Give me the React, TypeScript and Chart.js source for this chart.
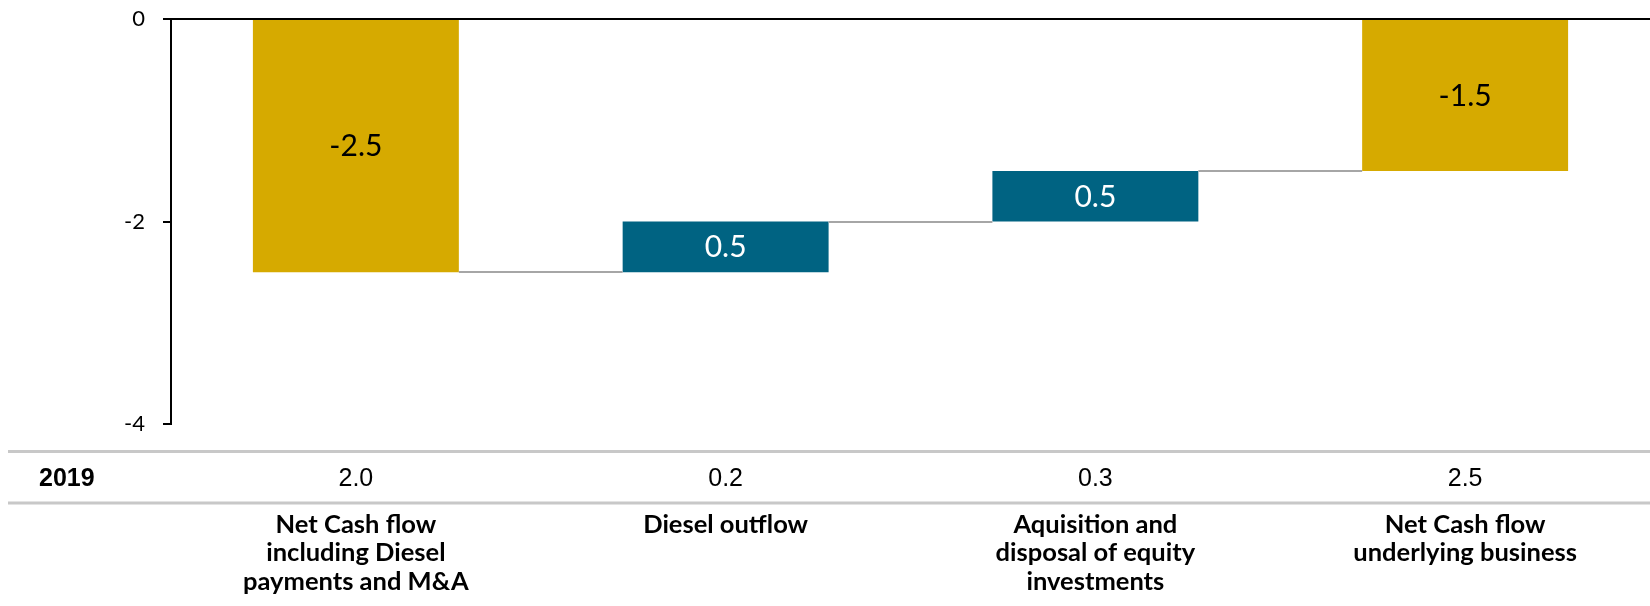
import React, { useEffect, useRef } from "react";
import { Chart, registerables } from "chart.js";

Chart.register(...registerables);

const categories: string[][] = [
  ["Net Cash flow", "including Diesel", "payments and M&A"],
  ["Diesel outflow"],
  ["Aquisition and", "disposal of equity", "investments"],
  ["Net Cash flow", "underlying business"],
];
const barStart = [0, -2.5, -2.0, -1.5];
const barEnd = [-2.5, -2.0, -1.5, 0];
const barLabels = ["-2.5", "0.5", "0.5", "-1.5"];
const values2019 = ["2.0", "0.2", "0.3", "2.5"];
const tableRowLabel = "2019";
const yTicks = [0, -2, -4];

const GOLD = "#D6AA00";
const BLUE = "#006382";
const barColors = [GOLD, BLUE, BLUE, GOLD];
const labelColors = ["#000000", "#ffffff", "#ffffff", "#000000"];

export default function App() {
  const ref = useRef<HTMLCanvasElement | null>(null);

  useEffect(() => {
    document.body.style.margin = "0";
    const canvas = ref.current;
    if (!canvas) return;

    const overlay = {
      id: "overlay",
      afterDatasetsDraw(chart: any) {
        const ctx = chart.ctx;
        const meta = chart.getDatasetMeta(0);
        const y = chart.scales.y;
        ctx.save();
        ctx.strokeStyle = "#a6a6a6";
        ctx.lineWidth = 2;
        for (let i = 0; i < meta.data.length - 1; i++) {
          const a = meta.data[i];
          const b = meta.data[i + 1];
          const py = Math.round(y.getPixelForValue(barEnd[i]));
          ctx.beginPath();
          ctx.moveTo(a.x + a.width / 2, py);
          ctx.lineTo(b.x - b.width / 2, py);
          ctx.stroke();
        }
        ctx.font = "30px Lato";
        ctx.textAlign = "center";
        ctx.textBaseline = "middle";
        meta.data.forEach((bar: any, i: number) => {
          const cy = (y.getPixelForValue(barStart[i]) + y.getPixelForValue(barEnd[i])) / 2;
          ctx.fillStyle = labelColors[i];
          ctx.fillText(barLabels[i], bar.x, cy + 1);
        });
        ctx.restore();
      },
      afterDraw(chart: any) {
        const ctx = chart.ctx;
        const x = chart.scales.x;
        ctx.save();
        ctx.strokeStyle = "#c8c8c8";
        ctx.lineWidth = 3;
        [451.5, 503].forEach((ly) => {
          ctx.beginPath();
          ctx.moveTo(8, ly);
          ctx.lineTo(chart.width, ly);
          ctx.stroke();
        });
        ctx.fillStyle = "#000";
        ctx.textBaseline = "middle";
        ctx.textAlign = "left";
        ctx.font = "bold 25px 'Liberation Sans', Arial";
        ctx.fillText(tableRowLabel, 39, 479);
        ctx.textAlign = "center";
        ctx.font = "25px 'Liberation Sans', Arial";
        values2019.forEach((v, i) => {
          ctx.fillText(v, x.getPixelForValue(i), 479);
        });
        ctx.restore();
      },
    };

    const chart = new Chart(canvas, {
      type: "bar",
      data: {
        labels: categories,
        datasets: [
          {
            data: barStart.map((s, i) => [s, barEnd[i]]) as any,
            backgroundColor: barColors,
            borderWidth: 0,
            categoryPercentage: 1,
            barPercentage: 0.557,
          },
        ],
      },
      options: {
        responsive: false,
        animation: false,
        layout: { padding: { top: 19, right: 0, left: 0, bottom: 0 } },
        plugins: {
          legend: { display: false },
          tooltip: { enabled: false },
          title: { display: false },
        },
        scales: {
          x: {
            grid: { display: false, drawTicks: false },
            border: { display: false },
            ticks: {
              color: "#000",
              font: { family: "Lato", weight: "bold", size: 25.5, lineHeight: 1.125 },
              padding: 86,
              maxRotation: 0,
              autoSkip: false,
            },
            afterFit(scale: any) {
              scale.height = 182;
              scale.paddingLeft = 0;
              scale.paddingRight = 0;
              scale.paddingTop = 0;
              scale.paddingBottom = 0;
            },
          },
          y: {
            min: -4,
            max: 0,
            afterBuildTicks(scale: any) {
              scale.ticks = yTicks.map((v) => ({ value: v }));
            },
            grid: {
              color: (c: any) => (c.tick && c.tick.value === 0 ? "#000" : "rgba(0,0,0,0)"),
              tickColor: "#000",
              lineWidth: 2,
              tickLength: 8,
              drawTicks: true,
            },
            border: { display: true, color: "#000", width: 2 },
            ticks: {
              color: "#000",
              font: { family: "Lato", size: 22 },
              padding: 18,
              callback: (v: any) => String(v),
            },
            afterFit(scale: any) {
              scale.width = 171;
              scale.paddingTop = 0;
              scale.paddingBottom = 0;
            },
          },
        },
      },
      plugins: [overlay],
    });

    return () => chart.destroy();
  }, []);

  return (
    <div style={{ position: "absolute", left: 0, top: 0, width: 1650, height: 606 }}>
      <canvas ref={ref} width={1650} height={606} />
    </div>
  );
}
